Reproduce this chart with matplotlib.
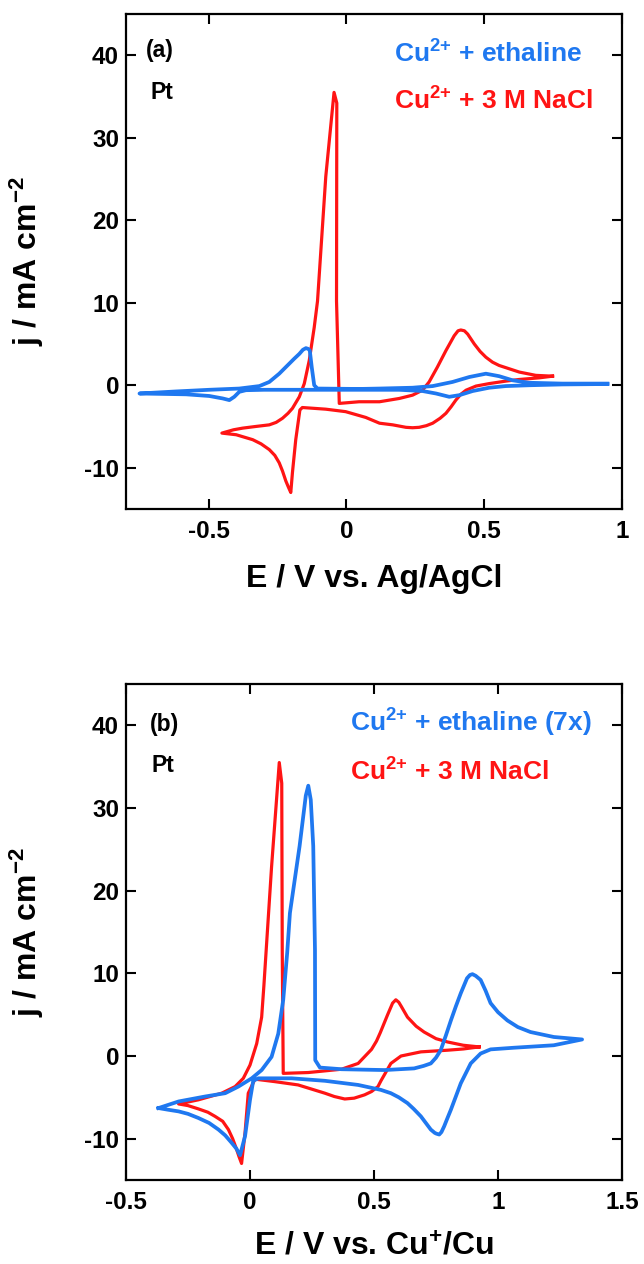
import matplotlib
matplotlib.use("Agg")
import matplotlib.pyplot as plt

plt.rcParams['font.family'] = ['Liberation Sans', 'DejaVu Sans']
plt.rcParams['font.weight'] = 'bold'
plt.rcParams['axes.labelweight'] = 'bold'
plt.rcParams['axes.unicode_minus'] = False
plt.rcParams['mathtext.fontset'] = 'custom'
plt.rcParams['mathtext.rm'] = 'Liberation Sans:bold'
plt.rcParams['mathtext.bf'] = 'Liberation Sans:bold'
plt.rcParams['mathtext.default'] = 'regular'

RED = '#ff1414'
BLUE = '#1f78f0'

# ---- panel (a): vs Ag/AgCl ----
# Cu2+ + 3 M NaCl
e_a_nacl = [0.748, 0.70, 0.627, 0.578, 0.518, 0.47, 0.434, 0.415, 0.397, 0.38, 0.361, 0.34,
            0.313, 0.29, 0.264, 0.24, 0.216, 0.168, 0.12, 0.07, -0.003, -0.075, -0.16, -0.169,
            -0.184, -0.196, -0.202, -0.21, -0.22, -0.232, -0.244, -0.26, -0.28, -0.31, -0.34,
            -0.40, -0.452,
            -0.41, -0.377, -0.33, -0.28, -0.255, -0.232, -0.212, -0.196, -0.171, -0.153, -0.135,
            -0.117, -0.105, -0.075, -0.045, -0.035, -0.036, -0.026, 0.046, 0.12, 0.192, 0.24,
            0.276, 0.30, 0.33, 0.361, 0.391, 0.405, 0.415, 0.428, 0.44, 0.452, 0.464, 0.485,
            0.506, 0.53, 0.554, 0.627, 0.687, 0.748]
j_a_nacl = [1.1, 0.9, 0.7, 0.5, 0.2, -0.1, -0.6, -1.1, -1.8, -2.6, -3.4, -4.0,
            -4.6, -4.9, -5.1, -5.15, -5.1, -4.8, -4.6, -3.9, -3.2, -2.9, -2.7, -3.0,
            -6.6, -10.6, -13.0, -12.4, -11.6, -10.4, -9.4, -8.5, -7.8, -7.1, -6.6,
            -6.0, -5.8,
            -5.4, -5.2, -5.0, -4.8, -4.5, -4.0, -3.4, -2.8, -1.4, 0.2, 3.0,
            7.0, 10.2, 25.3, 35.5, 34.2, 10.2, -2.2, -2.0, -2.0, -1.6, -1.2,
            -0.6, 0.4, 2.2, 4.2, 6.0, 6.6, 6.7, 6.6, 6.2, 5.6, 5.0, 4.1,
            3.4, 2.8, 2.4, 1.6, 1.2, 1.1]

# Cu2+ + ethaline
e_a_eth = [0.947, 0.784, 0.663, 0.578, 0.518, 0.458, 0.41, 0.373, 0.325, 0.276, 0.192, 0.12,
           0.0, -0.1, -0.2, -0.3, -0.365, -0.389, -0.407, -0.425, -0.449, -0.498, -0.582, -0.751,
           -0.618, -0.498, -0.389, -0.316, -0.28, -0.244, -0.226, -0.208, -0.19, -0.171, -0.158,
           -0.147, -0.138, -0.133, -0.126, -0.117, -0.105, 0.046, 0.12, 0.24, 0.313, 0.385,
           0.446, 0.506, 0.554, 0.603, 0.663, 0.784, 0.947]
j_a_eth = [0.15, 0.1, 0.0, -0.1, -0.3, -0.7, -1.2, -1.4, -1.0, -0.7, -0.55, -0.55,
           -0.55, -0.55, -0.55, -0.55, -0.6, -0.8, -1.4, -1.8, -1.6, -1.3, -1.1, -1.0,
           -0.75, -0.55, -0.4, -0.1, 0.4, 1.4, 2.0, 2.6, 3.2, 3.8, 4.3,
           4.5, 4.4, 4.2, 2.2, 0.0, -0.4, -0.45, -0.4, -0.3, -0.1, 0.4,
           1.0, 1.4, 1.1, 0.6, 0.3, 0.2, 0.2]

# ---- panel (b): vs Cu+/Cu ----
e_b_nacl = [0.924, 0.86, 0.796, 0.689, 0.609, 0.568, 0.528, 0.516, 0.49, 0.462, 0.42, 0.382,
            0.34, 0.302, 0.194, 0.1, 0.02, -0.007, -0.02, -0.034, -0.044, -0.054, -0.07, -0.087,
            -0.11, -0.141, -0.17, -0.208, -0.25, -0.288,
            -0.208, -0.114, -0.06, -0.027, 0.0, 0.027, 0.047, 0.056, 0.087, 0.118, 0.128,
            0.13, 0.134, 0.235, 0.369, 0.436, 0.49, 0.51, 0.525, 0.54, 0.555, 0.575, 0.588,
            0.6, 0.61, 0.635, 0.67, 0.702, 0.75, 0.796, 0.86, 0.924]
j_b_nacl = [1.1, 0.85, 0.7, 0.5, 0.0, -0.9, -3.0, -3.7, -4.3, -4.7, -5.1, -5.2,
            -4.9, -4.5, -3.5, -3.1, -2.8, -4.5, -9.3, -13.0, -12.2, -11.3, -10.0, -8.9,
            -7.9, -7.3, -6.8, -6.4, -6.0, -5.8,
            -5.3, -4.5, -3.7, -2.7, -1.1, 1.5, 4.7, 8.5, 22.9, 35.5, 33.0,
            12.8, -2.1, -2.0, -1.6, -0.9, 0.8, 1.8, 2.8, 3.9, 5.0, 6.4, 6.8,
            6.5, 6.0, 4.7, 3.6, 2.9, 2.1, 1.7, 1.3, 1.1]

# Cu2+ + ethaline (current x7)
e_b_eth = [-0.369, -0.288, -0.181, -0.1, -0.047, 0.007, 0.047, 0.087, 0.114, 0.134, 0.15,
           0.161, 0.2, 0.225, 0.235, 0.245, 0.255, 0.262, 0.263, 0.282, 0.369, 0.543, 0.662,
           0.7, 0.729, 0.75, 0.769, 0.79, 0.81, 0.83, 0.85, 0.875, 0.887, 0.897, 0.91, 0.93,
           0.95, 0.97, 1.0, 1.038, 1.08, 1.131, 1.225, 1.339,
           1.225, 1.064, 0.97, 0.93, 0.89, 0.85, 0.83, 0.81, 0.795, 0.783, 0.772, 0.763,
           0.752, 0.745, 0.729, 0.689, 0.66, 0.635, 0.6, 0.568, 0.528, 0.436, 0.302, 0.168,
           0.034, 0.013, 0.0, -0.02, -0.04, -0.055, -0.074, -0.1, -0.127, -0.165, -0.208,
           -0.25, -0.288, -0.33, -0.369]
j_b_eth = [-6.3, -5.5, -4.9, -4.5, -3.7, -2.7, -1.7, -0.1, 2.7, 6.8, 12.5,
           17.3, 25.4, 31.5, 32.7, 31.0, 25.4, 12.8, -0.5, -1.4, -1.6, -1.7, -1.5,
           -1.2, -0.9, -0.2, 0.7, 2.5, 4.3, 6.0, 7.6, 9.4, 9.8, 9.9, 9.7, 9.2,
           7.9, 6.4, 5.3, 4.3, 3.5, 2.9, 2.3, 2.0,
           1.3, 1.0, 0.8, 0.3, -0.9, -3.3, -4.9, -6.5, -7.6, -8.5, -9.2, -9.5,
           -9.4, -9.3, -8.9, -7.3, -6.4, -5.7, -5.0, -4.5, -4.1, -3.5, -3.0, -2.7,
           -2.7, -3.0, -5.3, -9.7, -12.0, -11.2, -10.5, -9.6, -8.9, -8.1, -7.5,
           -7.0, -6.7, -6.5, -6.3]

yticks = [-10, 0, 10, 20, 30, 40]


def style_axes(ax, xlim, xticks, xticklabels):
    ax.set_xlim(*xlim)
    ax.set_ylim(-15, 45)
    ax.set_xticks(xticks)
    ax.set_xticklabels(xticklabels)
    ax.set_yticks(yticks)
    ax.tick_params(direction='in', length=7, width=1.5, top=True, right=True,
                   labelsize=17.5)
    ax.tick_params(axis='x', pad=8)
    ax.tick_params(axis='y', pad=5)
    for s in ax.spines.values():
        s.set_linewidth(1.6)


fig = plt.figure(figsize=(6.44, 12.64), dpi=100)

# panel (a)
ax1 = fig.add_axes([126 / 644, 1 - 509 / 1264, 496 / 644, 495 / 1264])
ax1.plot(e_a_nacl, j_a_nacl, color=RED, lw=2.3, solid_joinstyle='round')
ax1.plot(e_a_eth, j_a_eth, color=BLUE, lw=2.7, solid_joinstyle='round')
style_axes(ax1, (-0.8, 1.0), [-0.5, 0, 0.5, 1], ['-0.5', '0', '0.5', '1'])
ax1.set_xlabel('E / V vs. Ag/AgCl', fontsize=23)
ax1.set_ylabel('j / mA cm$^{-2}$', fontsize=23)
ax1.xaxis.set_label_coords(0.5, -0.112)
ax1.yaxis.set_label_coords(-0.162, 0.5)
ax1.text(0.04, 0.927, '(a)', transform=ax1.transAxes, fontsize=16.5, va='center')
ax1.text(0.05, 0.842, 'Pt', transform=ax1.transAxes, fontsize=16.5, va='center')
ax1.text(0.54, 0.919, 'Cu$^{2{+}}$ + ethaline', transform=ax1.transAxes, fontsize=19,
         va='center', color=BLUE)
ax1.text(0.54, 0.824, 'Cu$^{2{+}}$ + 3 M NaCl', transform=ax1.transAxes, fontsize=19,
         va='center', color=RED)

# panel (b)
ax2 = fig.add_axes([126 / 644, 1 - 1180 / 1264, 496 / 644, 496 / 1264])
ax2.plot(e_b_nacl, j_b_nacl, color=RED, lw=2.3, solid_joinstyle='round')
ax2.plot(e_b_eth, j_b_eth, color=BLUE, lw=2.7, solid_joinstyle='round')
style_axes(ax2, (-0.5, 1.5), [-0.5, 0, 0.5, 1, 1.5], ['-0.5', '0', '0.5', '1', '1.5'])
ax2.set_xlabel('E / V vs. Cu$^{+}$/Cu', fontsize=23)
ax2.set_ylabel('j / mA cm$^{-2}$', fontsize=23)
ax2.xaxis.set_label_coords(0.5, -0.105)
ax2.yaxis.set_label_coords(-0.162, 0.5)
ax2.text(0.048, 0.919, '(b)', transform=ax2.transAxes, fontsize=16.5, va='center')
ax2.text(0.052, 0.835, 'Pt', transform=ax2.transAxes, fontsize=16.5, va='center')
ax2.text(0.452, 0.921, 'Cu$^{2{+}}$ + ethaline (7x)', transform=ax2.transAxes, fontsize=19,
         va='center', color=BLUE)
ax2.text(0.452, 0.823, 'Cu$^{2{+}}$ + 3 M NaCl', transform=ax2.transAxes, fontsize=19,
         va='center', color=RED)

fig.savefig('out.png', dpi=100)
